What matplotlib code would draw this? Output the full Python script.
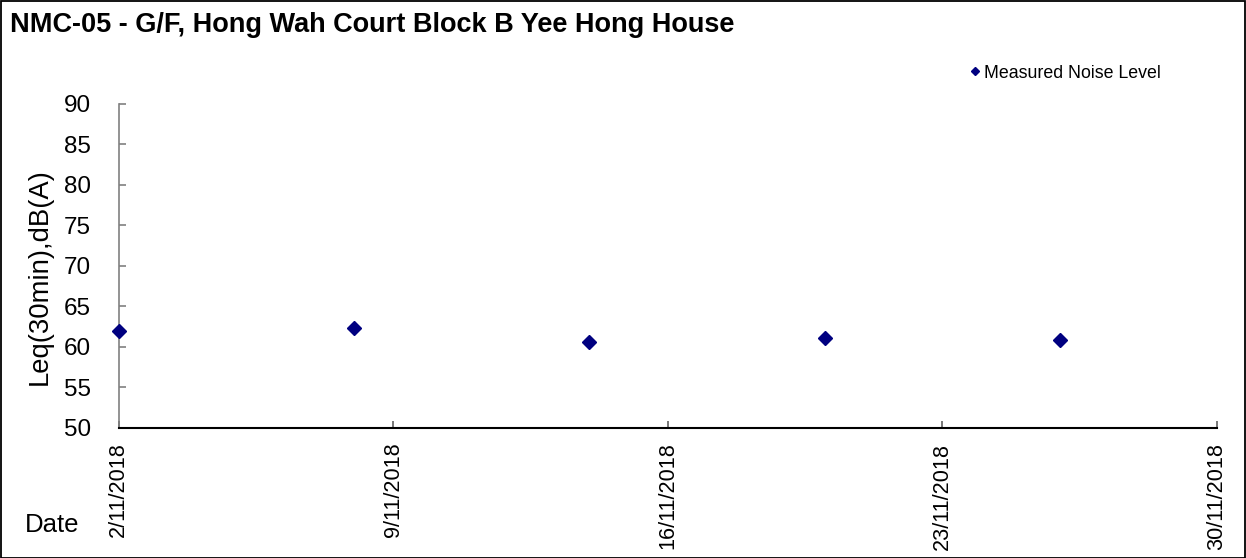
import matplotlib
matplotlib.use("Agg")
import matplotlib.pyplot as plt
from matplotlib.patches import Rectangle
import datetime as dt

plt.rcParams['font.family'] = ['Liberation Sans', 'DejaVu Sans']

title = "NMC-05 - G/F, Hong Wah Court Block B Yee Hong House"
dates = ["2018-11-02", "2018-11-08", "2018-11-14", "2018-11-20", "2018-11-26"]
noise = [61.9, 62.3, 60.6, 61.1, 60.9]
tick_dates = ["2018-11-02", "2018-11-09", "2018-11-16", "2018-11-23", "2018-11-30"]
tick_labels = ["2/11/2018", "9/11/2018", "16/11/2018", "23/11/2018", "30/11/2018"]
y_ticks = [50, 55, 60, 65, 70, 75, 80, 85, 90]
series_name = "Measured Noise Level"

W, H = 1246, 558
fig = plt.figure(figsize=(W/100, H/100), dpi=100)
ax_top, ax_bot = 103.5, 428
ax = fig.add_axes([118.5/W, 1-ax_bot/H, (1217-118.5)/W, (ax_bot-ax_top)/H])

xd = [dt.datetime.strptime(d, "%Y-%m-%d") for d in dates]
xt = [dt.datetime.strptime(d, "%Y-%m-%d") for d in tick_dates]

ax.plot(xd, noise, linestyle='none', marker='D', markersize=7.5,
        color='#000080', label=series_name, clip_on=False, zorder=5)

ax.set_xlim(xt[0], xt[-1])
ax.set_ylim(50, 90)
ax.set_yticks(y_ticks)
ax.set_xticks(xt)
ax.set_xticklabels(tick_labels, rotation=90, va='top', ha='center')

for s in ['top', 'right']:
    ax.spines[s].set_visible(False)
ax.spines['left'].set_color('#808080')
ax.spines['left'].set_linewidth(1.2)
ax.spines['bottom'].set_color('black')
ax.spines['bottom'].set_linewidth(1.5)

ax.tick_params(axis='y', direction='in', length=5, color='#808080', width=1.2,
               labelsize=17.5, pad=20)
ax.tick_params(axis='x', direction='in', length=5, color='#606060', width=1.2,
               labelsize=15.6, pad=10.5)

fig.text(39.5/W, 1-277/H, "Leq(30min),dB(A)", fontsize=19.8,
         rotation=90, ha='center', va='center')

fig.text(10/W, 1-25/H, title, fontsize=19.5, fontweight='bold', ha='left', va='center')
fig.text(25/W, 1-525/H, "Date", fontsize=18.5, ha='left', va='center')

leg = ax.legend(loc='center left', bbox_to_anchor=(971/W, 1-73/H), bbox_transform=fig.transFigure,
                frameon=False, fontsize=12.8, handlelength=0.5, handletextpad=0.25,
                markerscale=0.55, borderpad=0, borderaxespad=0)

fig.add_artist(Rectangle((0.5/W, 0.5/H), 1-1.5/W, 1-1.5/H, transform=fig.transFigure,
                         fill=False, edgecolor='black', linewidth=1.3))

fig.savefig("out.png", dpi=100)
